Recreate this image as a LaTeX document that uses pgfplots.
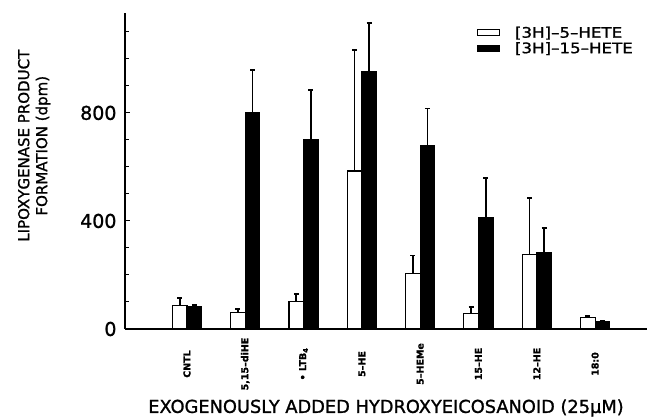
\documentclass[border=0pt]{standalone}
\usepackage{fontspec}
\setmainfont{DejaVu Sans}[FakeBold=1.2]
\usepackage{pgfplots}
\pgfplotsset{compat=1.18}
\usepackage{pgfplotstable}

% group, white bar (5-HETE), error+, black bar (15-HETE), error+
\pgfplotstableread{
x  w    wp   b    bp
0  86   29   82   8
1  62   13   800  158
2  102  28   700  184
3  585  449  952  180
4  204  68   678  138
5  59   23   414  144
6  276  208  284  89
7  41   6    28   4
}\data

\begin{document}
\begin{tikzpicture}
\begin{axis}[
    at={(0,0)}, anchor=south west,
    scale only axis,
    width=522pt, height=316pt,
    xmin=-1.063, xmax=7.89,
    ymin=0, ymax=1170,
    axis x line*=bottom, axis y line*=left,
    axis line style={line width=1.4pt},
    ybar, bar width=0.25,
    ytick={0,400,800},
    minor ytick={100,200,300,500,600,700,900,1000,1100},
    tick align=inside,
    major tick length=5pt, minor tick length=4pt,
    ytick style={line width=1pt, black},
    minor tick style={line width=1pt, black},
    xtick={0,...,7},
    xtick style={draw=none},
    xticklabels={CNTL, {5,15--diHE}, {\textbullet\ LTB\textsubscript{4}}, 5--HE, 5--HEMe, 15--HE, 12--HE, 18:0},
    xticklabel style={rotate=90, anchor=center, font=\fontsize{9.5}{9.5}\selectfont\bfseries},
    xticklabel shift=35pt,
    yticklabel style={font=\fontsize{19}{19}\selectfont, xshift=-5pt},
    /pgf/number format/assume math mode=true,
    ylabel={LIPOXYGENASE PRODUCT\\FORMATION (dpm)},
    ylabel style={align=center, font=\fontsize{15}{18}\selectfont,
        at={(axis description cs:-0.174,0.58)}, anchor=center},
    xlabel={EXOGENOUSLY ADDED HYDROXYEICOSANOID (25\textmu M)},
    xlabel style={font=\fontsize{17.8}{18}\selectfont,
        at={(axis description cs:0.5,-0.25)}, anchor=center},
    legend style={at={(axis description cs:0.668,0.97)}, anchor=north west,
        draw=none, fill=none, font=\fontsize{14.5}{14.5}\selectfont,
        row sep=-1pt, cells={anchor=west},
        /tikz/every odd column/.append style={column sep=13pt}},
]
\addplot[fill=white, draw=black, line width=1.1pt, bar shift=-0.125,
    legend image code/.code={\draw[fill=white, draw=black, line width=1.1pt] (0pt,-3pt) rectangle (22pt,3pt);},
    error bars/.cd, y dir=plus, y explicit, error mark=|,
    error bar style={line width=1.7pt, black, solid},
    error mark options={line width=1.7pt, mark size=2.5pt, black, draw=black}]
    table[x=x, y=w, y error plus=wp] {\data};
\addplot[fill=black, draw=black, line width=1.1pt, bar shift=0.125,
    legend image code/.code={\draw[fill=black, draw=black, line width=1.1pt] (0pt,-3pt) rectangle (22pt,3pt);},
    error bars/.cd, y dir=plus, y explicit, error mark=|,
    error bar style={line width=1.7pt, black, solid},
    error mark options={line width=1.7pt, mark size=2.5pt, black, draw=black}]
    table[x=x, y=b, y error plus=bp] {\data};
\legend{{\scalebox{1.15}[1]{[3H]--5--HETE}}, {\scalebox{1.15}[1]{[3H]--15--HETE}}}
\end{axis}
\pgfresetboundingbox
\path[use as bounding box] (-125pt,-90pt) rectangle (524pt,329pt);
\end{tikzpicture}
\end{document}
